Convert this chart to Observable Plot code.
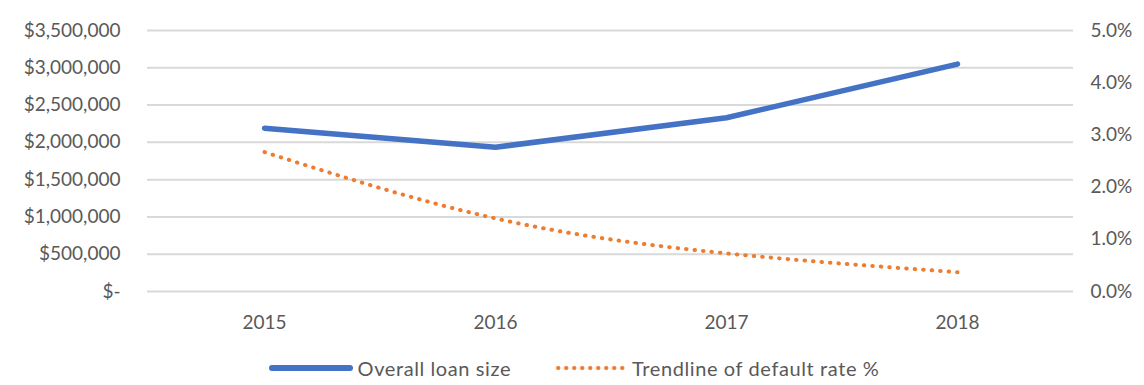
<!DOCTYPE html>
<html>
<head>
<meta charset="utf-8">
<script src="https://cdn.jsdelivr.net/npm/d3@7"></script>
<script src="https://cdn.jsdelivr.net/npm/@observablehq/plot@0.6"></script>
<style>
  html, body { margin: 0; padding: 0; background: #fff; }
  #chart { width: 1144px; }
  .legend { display: flex; justify-content: center; align-items: center; gap: 44px; height: 35px;
            font-family: Lato, "Open Sans", sans-serif; font-size: 20px; letter-spacing: 0.6px; color: #595959; margin-left: 4px; }
  .legend .item { display: flex; align-items: center; gap: 5px; }
</style>
</head>
<body>
<div id="chart"></div>
<script>
const years = ["2015", "2016", "2017", "2018"];
const loanSize = [2190000, 1935000, 2330000, 3050000];
const defaultRateTrend = [2.67, 1.40, 0.73, 0.37]; // percent
const leftTicks = [0, 500000, 1000000, 1500000, 2000000, 2500000, 3000000, 3500000];
const rightTickLabels = ["0.0%", "1.0%", "2.0%", "3.0%", "4.0%", "5.0%"];
const seriesNames = ["Overall loan size", "Trendline of default rate %"];

const blue = "#4472C4";
const orange = "#ED7D31";
const textColor = "#595959";
const yMax = 3500000;
const pctMax = 5; // right axis max in percent
const scaleFactor = yMax / pctMax;

const loanData = years.map((y, i) => ({year: y, value: loanSize[i]}));
const rateData = years.map((y, i) => ({year: y, value: defaultRateTrend[i] * scaleFactor}));
const rightTicks = rightTickLabels.map((_, i) => i * scaleFactor);

const fmtDollar = d => d === 0 ? "$-" : "$" + d3.format(",")(d);

const plot = Plot.plot({
  width: 1144,
  height: 350,
  marginTop: 30,
  marginBottom: 59,
  marginLeft: 147,
  marginRight: 71,
  style: {fontFamily: "Lato, 'Open Sans', sans-serif", fontSize: "19px", color: textColor, background: "#fff"},
  x: {type: "point", domain: years, padding: 0.5, label: null},
  y: {domain: [0, yMax], label: null},
  marks: [
    Plot.gridY(leftTicks, {stroke: "#d9d9d9", strokeOpacity: 1, strokeWidth: 2}),
    Plot.axisY(leftTicks, {anchor: "left", tickSize: 0, tickPadding: 27, tickFormat: fmtDollar, label: null, fill: textColor}),
    Plot.axisY(rightTicks, {anchor: "right", tickSize: 0, tickPadding: 17, tickFormat: (d, i) => rightTickLabels[i], label: null, fill: textColor}),
    Plot.axisX({tickSize: 0, tickPadding: 24, label: null, fill: textColor}),
    Plot.line(rateData, {x: "year", y: "value", stroke: orange, strokeWidth: 4, strokeDasharray: "0.5 8", strokeLinecap: "round", curve: "natural"}),
    Plot.line(loanData, {x: "year", y: "value", stroke: blue, strokeWidth: 5.5, strokeLinecap: "round", strokeLinejoin: "round"})
  ]
});
document.getElementById("chart").appendChild(plot);

const legend = document.createElement("div");
legend.className = "legend";
legend.innerHTML = `
  <div class="item"><svg width="84" height="10"><line x1="3" y1="5" x2="81" y2="5" stroke="${blue}" stroke-width="6" stroke-linecap="round"/></svg><span>${seriesNames[0]}</span></div>
  <div class="item"><svg width="72" height="10"><line x1="3" y1="5" x2="69" y2="5" stroke="${orange}" stroke-width="4" stroke-dasharray="0.5 7.5" stroke-linecap="round"/></svg><span>${seriesNames[1]}</span></div>`;
document.getElementById("chart").appendChild(legend);
</script>
</body>
</html>
